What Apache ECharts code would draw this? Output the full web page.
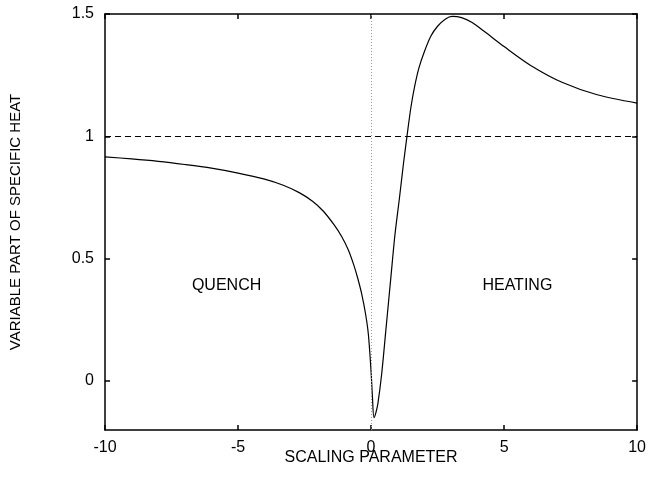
<!DOCTYPE html>
<html>
<head>
<meta charset="utf-8">
<script src="https://cdn.jsdelivr.net/npm/echarts@6/dist/echarts.min.js"></script>
<style>
  html, body { margin: 0; padding: 0; background: #fff; }
  #chart { width: 649px; height: 478px; }
</style>
</head>
<body>
<div id="chart"></div>
<script>
// scaling parameter values (x) and specific heat values (y)
var xs = [-10, -9, -8, -7, -6, -5, -4, -3.3, -2.7, -2.2, -1.8, -1.4, -1.1, -0.85, -0.65, -0.5, -0.35, -0.2, -0.1, 0, 0.05, 0.11, 0.18, 0.26, 0.4, 0.55, 0.75, 0.9, 1.07, 1.22, 1.35, 1.5, 1.65, 1.8, 2.0, 2.25, 2.5, 2.8, 3.05, 3.4, 3.8, 4.3, 5.0, 6.0, 7.2, 8.5, 10];
var ys = [0.916, 0.908, 0.898, 0.885, 0.87, 0.85, 0.825, 0.80, 0.77, 0.735, 0.695, 0.64, 0.59, 0.535, 0.475, 0.42, 0.355, 0.27, 0.19, 0.04, -0.06, -0.15, -0.13, -0.09, 0.03, 0.2, 0.43, 0.6, 0.75, 0.89, 1.0, 1.12, 1.21, 1.28, 1.345, 1.41, 1.45, 1.48, 1.49, 1.485, 1.465, 1.425, 1.367, 1.29, 1.22, 1.17, 1.136];
var xTicks = [-10, -5, 0, 5, 10];
var yTicks = [0, 0.5, 1, 1.5];
var refLevel = 1;
var labels = [
  { name: 'QUENCH', coord: [-5.43, 0.39] },
  { name: 'HEATING', coord: [5.5, 0.39] }
];

var chart = echarts.init(document.getElementById('chart'));
var font = 'Liberation Sans, Arial, sans-serif';
var points = xs.map(function (x, i) { return [x, ys[i]]; });

var frameLine = { show: true, onZero: false, lineStyle: { color: '#000', width: 1.5 } };
var tickStyle = { show: true, inside: true, length: 5, lineStyle: { color: '#000', width: 1.5 } };

var option = {
  animation: false,
  grid: { left: 104, right: 7, top: 14, bottom: 48 },
  xAxis: [
    {
      type: 'value', min: -10, max: 10,
      name: 'SCALING PARAMETER', nameLocation: 'middle', nameGap: 20, nameMoveOverlap: false,
      nameTextStyle: { color: '#000', fontSize: 16, fontFamily: font },
      axisLine: frameLine,
      axisTick: Object.assign({}, tickStyle, { customValues: xTicks }),
      axisLabel: { color: '#000', fontSize: 16, fontFamily: font, margin: 10, customValues: xTicks },
      splitLine: { show: false }
    },
    {
      type: 'value', min: -10, max: 10, position: 'top',
      axisLine: frameLine,
      axisTick: Object.assign({}, tickStyle, { customValues: xTicks }),
      axisLabel: { show: false },
      splitLine: { show: false }
    }
  ],
  yAxis: [
    {
      type: 'value', min: -0.2, max: 1.5,
      name: 'VARIABLE PART OF SPECIFIC HEAT', nameLocation: 'middle', nameGap: 82, nameRotate: 90, nameMoveOverlap: false,
      nameTextStyle: { color: '#000', fontSize: 15, fontFamily: font },
      axisLine: frameLine,
      axisTick: Object.assign({}, tickStyle, { customValues: yTicks }),
      axisLabel: { color: '#000', fontSize: 16, fontFamily: font, margin: 11, customValues: yTicks },
      splitLine: { show: false }
    },
    {
      type: 'value', min: -0.2, max: 1.5, position: 'right',
      axisLine: frameLine,
      axisTick: Object.assign({}, tickStyle, { customValues: yTicks }),
      axisLabel: { show: false },
      splitLine: { show: false }
    }
  ],
  series: [
    {
      type: 'line',
      data: points,
      showSymbol: false,
      smooth: 0.3,
      lineStyle: { color: '#000', width: 1.2 },
      markLine: {
        silent: true,
        symbol: 'none',
        label: { show: false },
        data: [
          { yAxis: refLevel, lineStyle: { color: '#000', type: [6, 4], width: 1.2 } },
          { xAxis: 0, lineStyle: { color: '#999', type: [1, 2], width: 1 } }
        ]
      },
      markPoint: {
        symbol: 'circle', symbolSize: 0,
        label: { show: true, color: '#000', fontSize: 16, fontFamily: font, formatter: '{b}' },
        data: labels
      }
    }
  ]
};

chart.setOption(option);
</script>
</body>
</html>
